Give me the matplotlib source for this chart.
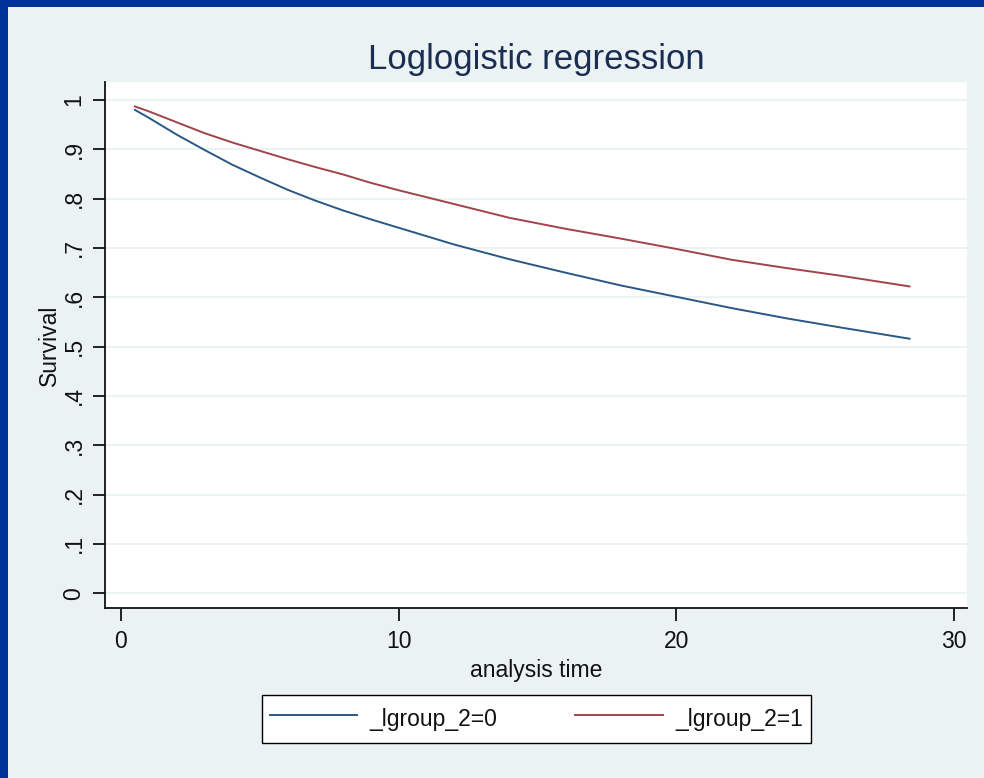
import matplotlib
matplotlib.use("Agg")
import matplotlib.pyplot as plt
from matplotlib.patches import Rectangle

# Data
time = [0.5, 1, 2, 3, 4, 5, 6, 7, 8, 9, 10, 12, 14, 16, 18, 20, 22, 24, 26, 28.4]
surv_g0 = [0.980, 0.964, 0.930, 0.899, 0.869, 0.843, 0.818, 0.796, 0.776, 0.758,
           0.741, 0.707, 0.677, 0.650, 0.624, 0.601, 0.578, 0.557, 0.538, 0.516]
surv_g1 = [0.987, 0.977, 0.955, 0.933, 0.914, 0.897, 0.880, 0.864, 0.849, 0.832,
           0.817, 0.789, 0.761, 0.739, 0.719, 0.698, 0.676, 0.659, 0.643, 0.622]
series_labels = ["_lgroup_2=0", "_lgroup_2=1"]
xticks = [0, 10, 20, 30]
yticks = [0, .1, .2, .3, .4, .5, .6, .7, .8, .9, 1]
ytick_labels = ["0", ".1", ".2", ".3", ".4", ".5", ".6", ".7", ".8", ".9", "1"]

W, H = 984, 778
BG = "#EAF2F3"
font = ["Liberation Sans", "DejaVu Sans"]
FS = 16.5

fig = plt.figure(figsize=(W / 100, H / 100), dpi=100, facecolor=BG)
# blue frame on top and left
fig.patches.append(Rectangle((0, 1 - 7 / H), 1, 7 / H, transform=fig.transFigure,
                             facecolor="#003399", edgecolor="none", zorder=10))
fig.patches.append(Rectangle((0, 0), 8 / W, 1, transform=fig.transFigure,
                             facecolor="#003399", edgecolor="none", zorder=10))

L, R, T, B = 105, 967, 82, 608
ax = fig.add_axes([L / W, (H - B) / H, (R - L) / W, (B - T) / H])
ax.set_facecolor("white")
l0, = ax.plot(time, surv_g0, color="#2a5884", lw=1.4, label=series_labels[0])
l1, = ax.plot(time, surv_g1, color="#a0444a", lw=1.4, label=series_labels[1])

ax.set_xlim(-0.576, 30.47)
ax.set_ylim(-0.030, 1.0365)
ax.set_xticks(xticks)
ax.set_xticklabels([str(v) for v in xticks], family=font, fontsize=FS)
ax.set_yticks(yticks)
ax.set_yticklabels(ytick_labels, family=font, fontsize=FS, rotation=90, va="center")
ax.yaxis.grid(True, color=BG, lw=1.3)
ax.set_axisbelow(True)
for s in ["top", "right"]:
    ax.spines[s].set_visible(False)
for s in ["left", "bottom"]:
    ax.spines[s].set_linewidth(1.3)
    ax.spines[s].set_color("#111111")
ax.tick_params(axis="both", length=9, width=1.3, color="#111111", labelcolor="#111111")
ax.tick_params(axis="x", pad=7)
ax.tick_params(axis="y", pad=5)

ax.set_xlabel("analysis time", family=font, fontsize=FS, color="#111111", labelpad=4)
ax.set_ylabel("Survival", family=font, fontsize=FS, color="#111111", labelpad=1)
fig.text(536 / W, 1 - 59 / H, "Loglogistic regression", family=font, fontsize=25,
         color="#1c2d52", ha="center", va="center")

leg = fig.legend(handles=[l0, l1], labels=series_labels, loc="center",
                 bbox_to_anchor=(536.5 / W, 1 - 719 / H), ncol=2,
                 frameon=True, fancybox=False, edgecolor="black", facecolor="white",
                 prop={"family": font, "size": FS}, handlelength=3.8, handleheight=1.75,
                 columnspacing=3.4, borderpad=0.35, handletextpad=0.55, framealpha=1)
leg.get_frame().set_linewidth(1.0)
for t in leg.get_texts():
    t.set_color("#111111")

fig.savefig("out.png", dpi=100, facecolor=BG)
